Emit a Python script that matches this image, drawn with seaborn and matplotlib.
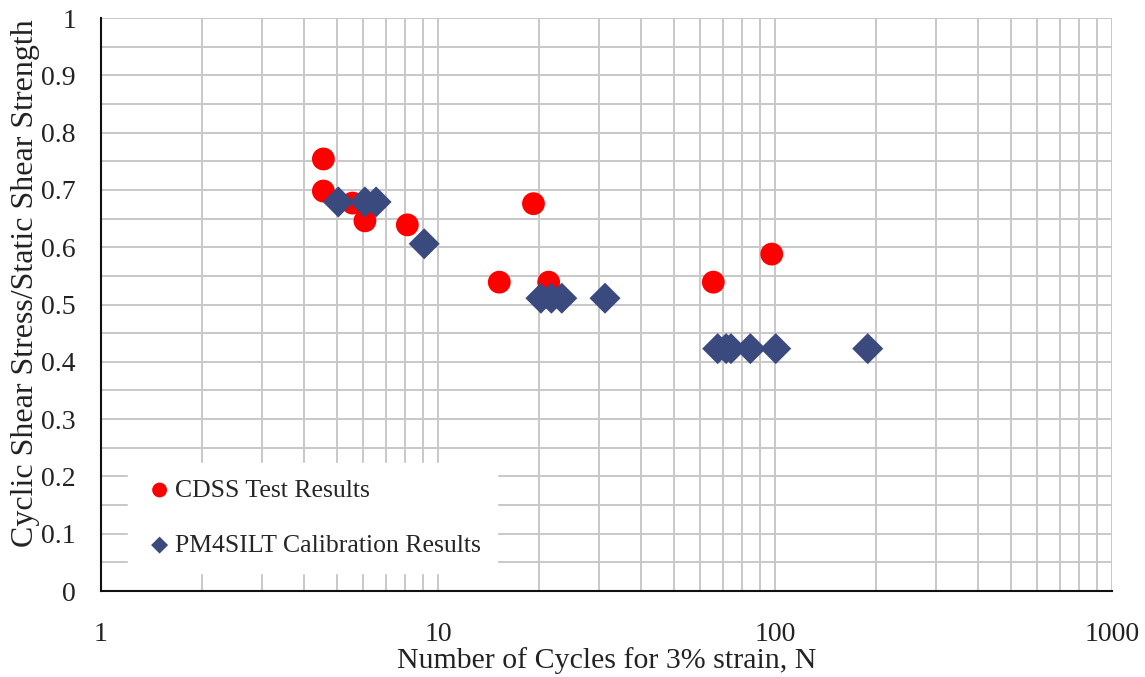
import matplotlib
matplotlib.use("Agg")
import matplotlib.pyplot as plt
from matplotlib.ticker import FixedLocator, NullFormatter
import seaborn as sns
import pandas as pd

# CDSS test results
cdss_n = [4.57, 4.57, 5.58, 6.07, 8.11, 15.2, 19.2, 21.3, 65.6, 97.8]
cdss_ratio = [0.754, 0.698, 0.677, 0.646, 0.639, 0.539, 0.676, 0.539, 0.539, 0.588]

# PM4SILT calibration results
pm4_n = [5.06, 6.07, 6.55, 9.1, 20.2, 21.7, 23.3, 31.3, 67.6, 71.6, 74.0, 84.5, 100.5, 188.4]
pm4_ratio = [0.679, 0.679, 0.679, 0.606, 0.511, 0.511, 0.511, 0.511,
             0.423, 0.423, 0.423, 0.423, 0.423, 0.423]

x_ticks = [1, 10, 100, 1000]
x_tick_labels = ["1", "10", "100", "1000"]
y_ticks = [0, 0.1, 0.2, 0.3, 0.4, 0.5, 0.6, 0.7, 0.8, 0.9, 1.0]
y_tick_labels = ["0", "0.1", "0.2", "0.3", "0.4", "0.5", "0.6", "0.7", "0.8", "0.9", "1"]

cdss = pd.DataFrame({"N": cdss_n, "ratio": cdss_ratio})
pm4 = pd.DataFrame({"N": pm4_n, "ratio": pm4_ratio})

sns.set_style("white")
plt.rcParams["font.family"] = ["Liberation Serif", "DejaVu Serif"]

fig = plt.figure(figsize=(11.45, 6.77), dpi=100)
ax = fig.add_axes([0.0882, 0.127, 0.8830, 0.8464])

sns.scatterplot(data=cdss, x="N", y="ratio", ax=ax, color="#ff0000", marker="o",
                s=270, edgecolor="none", label="CDSS Test Results", zorder=3)
sns.scatterplot(data=pm4, x="N", y="ratio", ax=ax, color="#3a4a7e", marker="D",
                s=250, edgecolor="none", label="PM4SILT Calibration Results", zorder=4)

ax.set_xscale("log")
ax.set_xlim(1, 1000)
ax.set_ylim(0, 1)

ax.set_xticks(x_ticks)
ax.set_xticklabels(x_tick_labels)
minor_x = [m * d for d in [1, 10, 100] for m in range(2, 10)]
ax.xaxis.set_minor_locator(FixedLocator(minor_x))
ax.xaxis.set_minor_formatter(NullFormatter())
ax.set_yticks(y_ticks)
ax.set_yticklabels(y_tick_labels)
ax.yaxis.set_minor_locator(FixedLocator([v + 0.05 for v in y_ticks[:-1]]))

ax.grid(True, which="both", color="#c8c8c8", linewidth=1.4)
ax.set_axisbelow(True)
ax.tick_params(which="both", length=0, labelsize=20, colors="#222222")
ax.tick_params(axis="x", pad=22)
ax.tick_params(axis="y", pad=18)

for side in ["top", "right"]:
    ax.spines[side].set_visible(False)
for side in ["left", "bottom"]:
    ax.spines[side].set_color("#111111")
    ax.spines[side].set_linewidth(1.5)

ax.set_xlabel("Number of Cycles for 3% strain, N", fontsize=21.5, color="#222222", labelpad=0)
ax.set_ylabel("Cyclic Shear Stress/Static Shear Strength", fontsize=23, color="#222222")
ax.yaxis.set_label_coords(-0.060, 0.5375)

leg = ax.legend(loc="lower left", bbox_to_anchor=(0.0267, 0.0314), frameon=True,
                fancybox=False, framealpha=1, facecolor="white", edgecolor="white",
                prop={"size": 18.5}, markerscale=0.65, handletextpad=0.0, handlelength=1.2,
                labelspacing=1.25, borderpad=0.63, borderaxespad=0)
leg.set_zorder(5)
leg.legend_handles[1].set_sizes([75])

fig.savefig("out.png", dpi=100)
